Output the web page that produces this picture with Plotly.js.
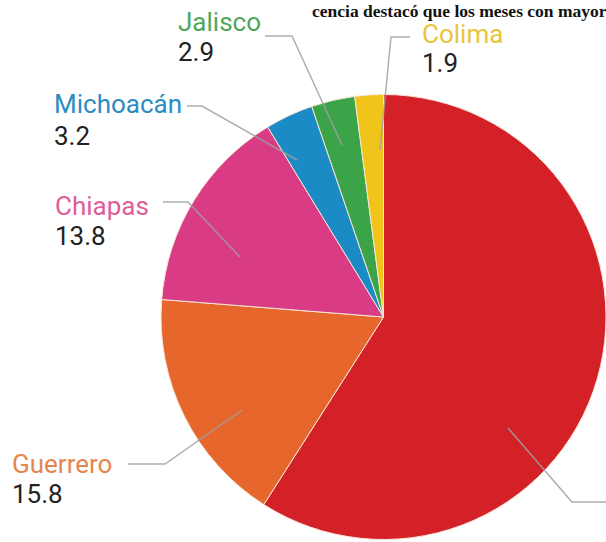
<!DOCTYPE html>
<html>
<head>
<meta charset="utf-8">
<script src="https://cdn.plot.ly/plotly-3.0.1.min.js"></script>
<style>
html,body{margin:0;padding:0;background:#fff;overflow:hidden;}
#chart{width:606px;height:542px;}
</style>
</head>
<body>
<div id="chart"></div>
<script>
// ---- data (clockwise from 12 o'clock) ----
var states = ['Otro', 'Guerrero', 'Chiapas', 'Michoacán', 'Jalisco', 'Colima'];
var values = [54.2, 15.8, 13.8, 3.2, 2.9, 1.9];
var sliceColors = ['#d42127', '#e6662c', '#d93b84', '#1b8bc5', '#3ba449', '#f1c41a'];
var labelColors = ['#d42127', '#e5864f', '#e05d98', '#2a8cc2', '#4ea75b', '#e9c53a'];
var topText = 'cencia destacó que los meses con mayor';

// ---- layout helpers (pixel -> paper) ----
var W = 606, H = 542;
function px(x){ return x / W; }
function py(y){ return 1 - y / H; }

// label placement (left edge x, vertical centre of name / number)
var labelPos = {
  'Guerrero':  {x: 10,  yName: 464, yNum: 494},
  'Chiapas':   {x: 53,  yName: 206, yNum: 236},
  'Michoacán': {x: 52,  yName: 104, yNum: 136},
  'Jalisco':   {x: 176, yName: 22,  yNum: 52},
  'Colima':    {x: 420, yName: 34,  yNum: 63}
};
// leader lines (polyline points in px)
var leaders = [
  [[606,502],[572,502],[508,428]],
  [[128,464],[165,464],[242,410]],
  [[163,202],[188,202],[240,257]],
  [[187,106],[202,106],[297,160]],
  [[265,36],[292,36],[342,145]],
  [[410,37],[391,37],[380,150]]
];

var annotations = [];
var shapes = [];
states.forEach(function(s, i){
  var p = labelPos[s];
  if(!p) return;
  annotations.push({xref:'paper', yref:'paper', x: px(p.x), y: py(p.yName),
    xanchor:'left', yanchor:'middle', showarrow:false, text: s,
    font:{family:'Roboto', size:26, color: labelColors[i]}});
  annotations.push({xref:'paper', yref:'paper', x: px(p.x), y: py(p.yNum),
    xanchor:'left', yanchor:'middle', showarrow:false, text: values[i].toFixed(1),
    font:{family:'Roboto', size:26, color:'#222222'}});
});
annotations.push({xref:'paper', yref:'paper', x: px(311), y: 1,
  xanchor:'left', yanchor:'top', showarrow:false, text: topText,
  borderpad: 0,
  font:{family:'Liberation Serif', size:17.5, color:'#111111', weight: 600}});

leaders.forEach(function(pts){
  var d = 'M ' + pts.map(function(p){ return px(p[0]) + ' ' + py(p[1]); }).join(' L ');
  shapes.push({type:'path', xref:'paper', yref:'paper', path: d,
    line:{color:'rgba(160,160,160,0.85)', width:1.5}});
});

var trace = {
  type: 'pie',
  labels: states,
  values: values,
  sort: false,
  direction: 'clockwise',
  rotation: 0,
  textinfo: 'none',
  hoverinfo: 'label+value',
  marker: {colors: sliceColors, line: {color: '#f7e6d8', width: 1}},
  domain: {x: [px(161), 1], y: [py(541), py(93)]},
  showlegend: false
};

var layout = {
  width: W, height: H,
  margin: {l:0, r:0, t:0, b:0},
  paper_bgcolor: '#ffffff',
  showlegend: false,
  annotations: annotations,
  shapes: shapes
};

Plotly.newPlot('chart', [trace], layout, {displayModeBar:false, staticPlot:true});
</script>
</body>
</html>
